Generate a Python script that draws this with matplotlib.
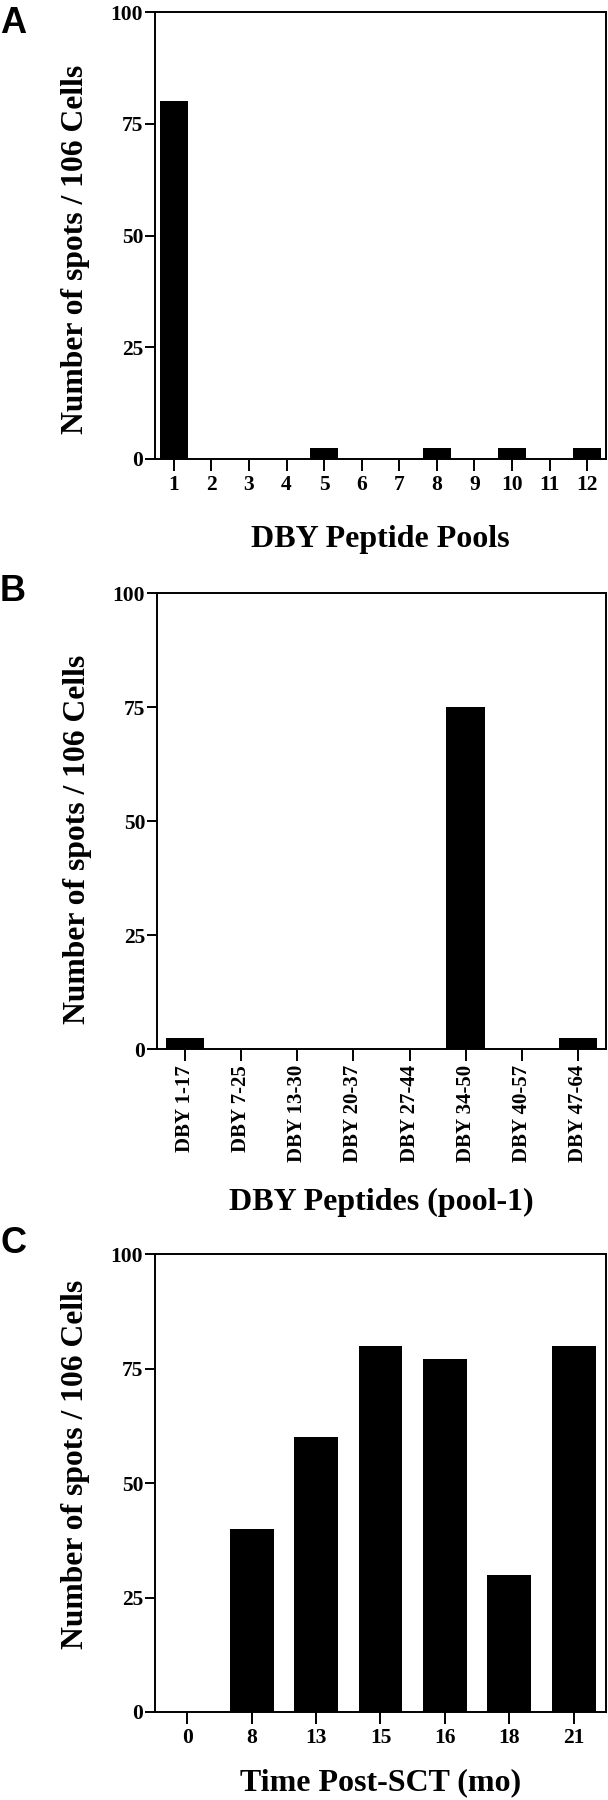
import numpy as np
import matplotlib
matplotlib.use("Agg")
import matplotlib.pyplot as plt

plt.rcParams['font.family'] = ['Liberation Serif', 'DejaVu Serif']
plt.rcParams['font.weight'] = 'bold'

# Panel A: DBY peptide pools
pools = ['1', '2', '3', '4', '5', '6', '7', '8', '9', '10', '11', '12']
pool_spots = [80, 0, 0, 0, 2.5, 0, 0, 2.5, 0, 2.5, 0, 2.5]

# Panel B: DBY peptides in pool 1
peptides = ['DBY 1-17', 'DBY 7-25', 'DBY 13-30', 'DBY 20-37',
            'DBY 27-44', 'DBY 34-50', 'DBY 40-57', 'DBY 47-64']
peptide_spots = [2.5, 0, 0, 0, 0, 75, 0, 2.5]

# Panel C: time course after SCT
months = ['0', '8', '13', '15', '16', '18', '21']
month_spots = [0, 40, 60, 80, 77, 30, 80]

ylabel = 'Number of spots / 106 Cells'
yticks = [0, 25, 50, 75, 100]

fig = plt.figure(figsize=(6.08, 18.0), dpi=100)

def style_axes(ax, n, xsize, ylab_y):
    ax.set_xlim(-0.5, n - 0.5)
    ax.set_ylim(0, 100)
    ax.set_yticks(yticks)
    ax.set_ylabel(ylabel, fontsize=22.8, fontweight='bold', va='center')
    ax.yaxis.set_label_coords(-0.177, ylab_y)
    for s in ax.spines.values():
        s.set_linewidth(1.4)
    ax.tick_params(axis='y', length=7, width=1.4, labelsize=15.5, pad=1.5)
    ax.tick_params(axis='x', length=8.5, width=1.4, labelsize=xsize, pad=3)
    for lab in ax.get_yticklabels() + ax.get_xticklabels():
        lab.set_fontweight('bold')

# A
axA = fig.add_axes([0.2549, 0.745, 0.7418, 0.2483])
x = np.arange(len(pools))
axA.bar(x, pool_spots, width=0.74, color='black')
axA.set_xticks(x)
axA.set_xticklabels(pools)
style_axes(axA, len(pools), 15.5, 0.47)
axA.set_xlabel('DBY Peptide Pools', fontsize=23, fontweight='bold', va='center')
axA.xaxis.set_label_coords(0.5, -0.181)

# B
axB = fig.add_axes([0.2582, 0.4172, 0.7385, 0.2533])
x = np.arange(len(peptides))
axB.bar(x, peptide_spots, width=0.69, color='black')
axB.set_xticks(x)
axB.set_xticklabels(peptides, rotation=90)
style_axes(axB, len(peptides), 15, 0.46)
axB.set_xlabel('DBY Peptides (pool-1)', fontsize=23, fontweight='bold', va='center')
axB.xaxis.set_label_coords(0.5, -0.336)

# C
axC = fig.add_axes([0.2549, 0.0489, 0.7418, 0.2544])
x = np.arange(len(months))
axC.bar(x, month_spots, width=0.68, color='black')
axC.set_xticks(x)
axC.set_xticklabels(months)
style_axes(axC, len(months), 15.5, 0.54)
axC.set_xlabel('Time Post-SCT (mo)', fontsize=23, fontweight='bold', va='center')
axC.xaxis.set_label_coords(0.5, -0.155)

# panel letters
for letter, ypix in [('A', 6), ('B', 574), ('C', 1226)]:
    fig.text(0.0, 1 - ypix / 1800, letter, fontsize=26, fontweight='bold',
             family=['Liberation Sans', 'DejaVu Sans'], ha='left', va='top')

fig.savefig('out.png', dpi=100)
